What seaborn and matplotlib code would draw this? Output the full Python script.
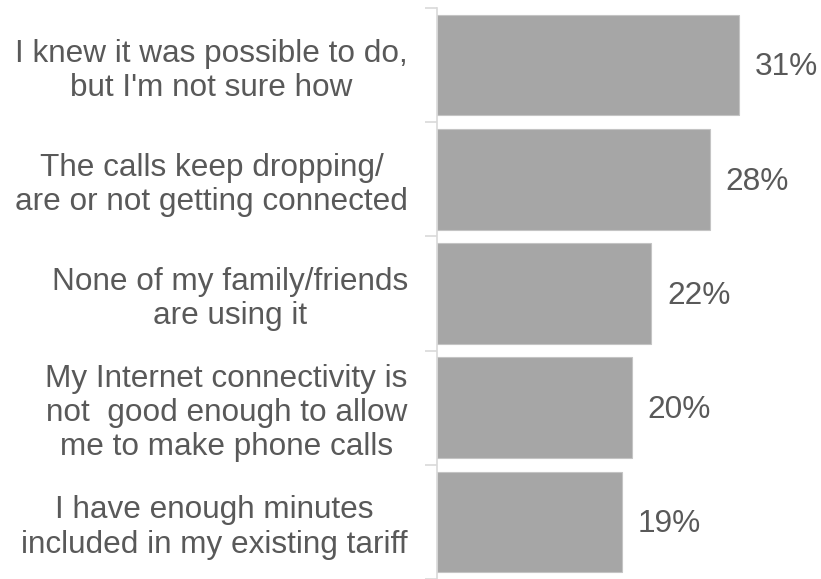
import matplotlib
matplotlib.use("Agg")
import matplotlib.pyplot as plt
import seaborn as sns
import pandas as pd
from matplotlib.ticker import FixedLocator

reasons = [
    "I knew it was possible to do,\nbut I'm not sure how",
    "The calls keep dropping/\nare or not getting connected",
    "None of my family/friends\nare using it",
    "My Internet connectivity is\nnot  good enough to allow\nme to make phone calls",
    "I have enough minutes\nincluded in my existing tariff",
]
shares = [31, 28, 22, 20, 19]

sns.set_theme(style="white")
plt.rcParams["font.family"] = ["Liberation Sans", "DejaVu Sans"]

TEXT = "#595959"
BAR = "#A6A6A6"
AXIS = "#D9D9D9"

df = pd.DataFrame({"reason": reasons, "share": shares})

fig = plt.figure(figsize=(8.21, 5.79), dpi=100)
ax = fig.add_axes([0.5323, 0.0, 0.4677, 0.986])

sns.barplot(data=df, x="share", y="reason", orient="h", color=BAR,
            saturation=1, width=0.88, edgecolor="#C4C4C4", linewidth=0.8, ax=ax)

ax.set_xlim(0, 39.4)
ax.set_ylim(len(reasons) - 0.5, -0.5)

for i, v in enumerate(shares):
    ax.text(v + 1.6, i + 0.02, f"{v}%", va="center", ha="left",
            fontsize=22.8, color=TEXT)

ax.set_xlabel("")
ax.set_ylabel("")
ax.set_xticks([])
ax.tick_params(axis="y", which="major", length=0, pad=21,
               labelsize=22.7, labelcolor=TEXT)
for lbl in ax.get_yticklabels():
    lbl.set_multialignment("center")
    lbl.set_linespacing(1.18)

ax.yaxis.set_minor_locator(FixedLocator([i - 0.5 for i in range(len(reasons) + 1)]))
ax.tick_params(axis="y", which="minor", length=9, width=1.2, color=AXIS, left=True)

for side in ["top", "right", "bottom"]:
    ax.spines[side].set_visible(False)
ax.spines["left"].set_color(AXIS)
ax.spines["left"].set_linewidth(1.2)

fig.savefig("out.png", dpi=100)
